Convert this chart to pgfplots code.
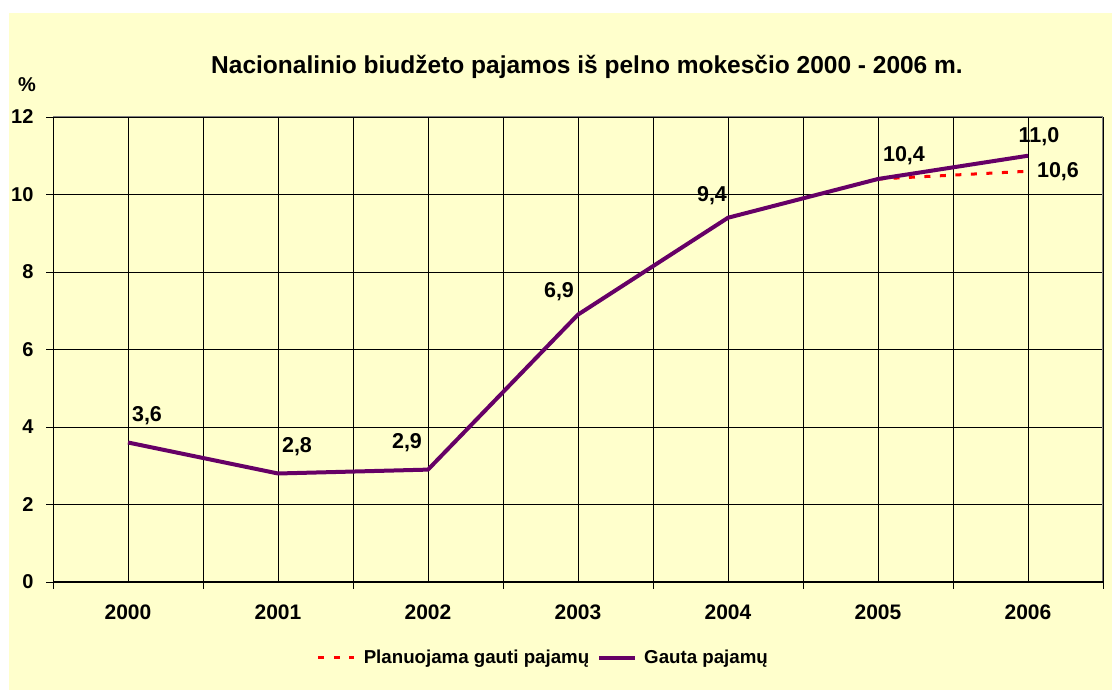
\documentclass[border=0pt]{standalone}
\usepackage{pgfplots}
\pgfplotsset{compat=1.18}
\usepackage{fontspec}
\setmainfont{Liberation Sans}
\definecolor{bgyellow}{HTML}{FFFFCC}
\definecolor{gpurple}{HTML}{660066}
\newcommand{\lab}{\fontsize{21.5bp}{24bp}\selectfont\bfseries}
\newcommand{\xlab}{\fontsize{21bp}{24bp}\selectfont\bfseries}
\newcommand{\ylab}{\fontsize{20bp}{24bp}\selectfont\bfseries}
\newcommand{\leglab}{\fontsize{18.7bp}{22bp}\selectfont\bfseries}
\begin{document}
\begin{tikzpicture}[x=1bp,y=1bp]
\path[use as bounding box] (0,0) rectangle (1112,690);
\fill[white] (0,0) rectangle (1112,690);
\fill[bgyellow] (9,0) rectangle (1112,677);
\begin{axis}[
  at={(53bp,108bp)}, anchor=south west,
  scale only axis, width=1050bp, height=465bp,
  xmin=-0.5, xmax=6.5, ymin=0, ymax=12,
  xtick={0,...,6},
  xticklabels={2000,2001,2002,2003,2004,2005,2006},
  minor xtick={-0.5,0.5,...,6.5},
  ytick={0,2,...,12},
  xmajorgrids, xminorgrids, ymajorgrids,
  grid style={black, line width=0.9bp},
  minor grid style={black, line width=0.9bp},
  axis line style={draw=none},
  major x tick style={draw=none},
  minor x tick style={black, line width=0.9bp},
  minor tick length=7bp,
  major tick length=7bp,
  ytick style={black, line width=0.9bp},
  tick align=outside,
  tick pos=left,
  xticklabel style={font=\xlab, yshift=-12bp},
  yticklabel style={font=\ylab, xshift=-9bp},
  /pgf/number format/assume math mode=true,
  legend style={at={(axis description cs:0.467,-0.163)}, anchor=center,
    draw=none, fill=none, font=\leglab, legend columns=2,
    /tikz/every even column/.append style={column sep=6bp}},
  legend image code/.code={\draw[#1] (0bp,0bp) -- (36bp,0bp);},
  clip=false,
]
% frame: gray top/right, black left/bottom
\draw[gray, line width=1bp] (rel axis cs:0,1) -- (rel axis cs:1,1) -- (rel axis cs:1,0);
\draw[black, line width=1bp] (rel axis cs:0,1) -- (rel axis cs:0,0) -- (rel axis cs:1,0);
\addplot[red, line width=3bp, dash pattern=on 6bp off 9.5bp] coordinates {(5,10.4) (6,10.6)};
\addlegendentry{\hspace{6bp}Planuojama gauti pajamų}
\addplot[gpurple, line width=4bp, line join=round] coordinates {
(0,3.6) (1,2.8) (2,2.9) (3,6.9) (4,9.4) (5,10.4) (6,11.0)};
\addlegendentry{\hspace{5bp}Gauta pajamų}
\node[font=\lab] at (axis cs:0,3.6) [xshift=19bp, yshift=27bp] {3,6};
\node[font=\lab] at (axis cs:1,2.8) [xshift=19bp, yshift=27bp] {2,8};
\node[font=\lab] at (axis cs:2,2.9) [xshift=-21bp, yshift=27bp] {2,9};
\node[font=\lab] at (axis cs:3,6.9) [xshift=-19bp, yshift=23bp] {6,9};
\node[font=\lab] at (axis cs:4,9.4) [xshift=-16bp, yshift=22bp] {9,4};
\node[font=\lab] at (axis cs:5,10.4) [xshift=26bp, yshift=23bp] {10,4};
\node[font=\lab] at (axis cs:6,11.0) [xshift=11bp, yshift=19bp] {11,0};
\node[font=\lab] at (axis cs:6,10.6) [xshift=30bp, yshift=0bp] {10,6};
\node[font=\ylab] at (axis description cs:0,1) [xshift=-26bp, yshift=32bp] {\%};
\node[font=\fontsize{24.5bp}{28bp}\selectfont\bfseries] at (axis description cs:0.5,1) [xshift=9bp, yshift=50bp] {Nacionalinio biudžeto pajamos iš pelno mokesčio 2000 - 2006 m.};
\end{axis}
\end{tikzpicture}
\end{document}
